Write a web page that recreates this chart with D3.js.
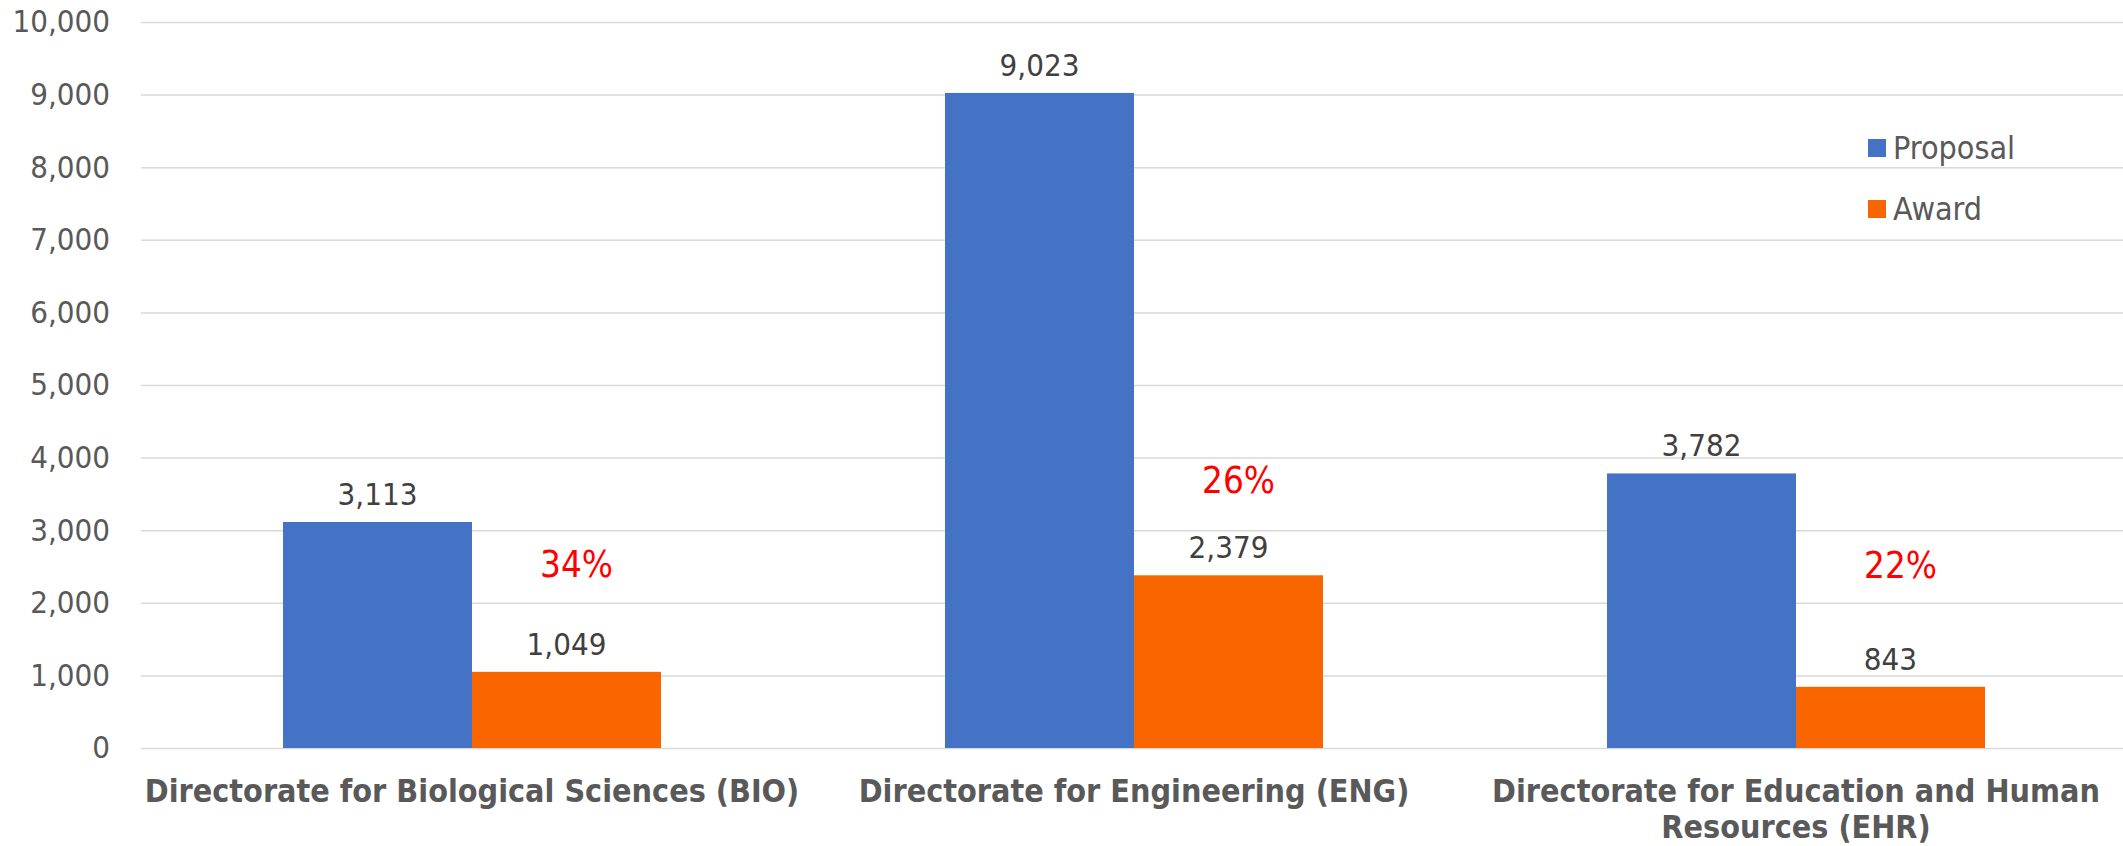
<!DOCTYPE html>
<html>
<head>
<meta charset="utf-8">
<script src="https://cdn.jsdelivr.net/npm/d3@7"></script>
<style>
    body { margin: 0; background: #fff; }
    svg text { font-family: "DejaVu Sans Condensed", "DejaVu Sans", sans-serif; font-stretch: condensed; }
</style>
</head>
<body>
<div id="chart"></div>
<script>

const categories = [
    "Directorate for Biological Sciences (BIO)",
    "Directorate for Engineering (ENG)",
    "Directorate for Education and Human Resources (EHR)"
];
const seriesNames = ["Proposal", "Award"];
const proposals = [3113, 9023, 3782];
const awards = [1049, 2379, 843];
const yTicks = [0, 1000, 2000, 3000, 4000, 5000, 6000, 7000, 8000, 9000, 10000];
// value height where the red award-rate note sits over each group
const rateNoteAt = [2350, 3510, 2340];

const colors = { Proposal: "#4472C4", Award: "#F96600" };

const width = 2123, height = 846;
const margin = { top: 22, right: -4, bottom: 98, left: 141 };

const svg = d3.select("#chart")
    .append("svg")
        .attr("width", width)
        .attr("height", height);

const x0 = d3.scaleBand()
    .domain(categories)
    .range([margin.left, width - margin.right])
    .paddingInner(0.429)
    .paddingOuter(0.2145);

const x1 = d3.scaleBand()
    .domain(seriesNames)
    .range([0, x0.bandwidth()]);

const y = d3.scaleLinear()
    .domain([0, 10000])
    .range([height - margin.bottom, margin.top]);

const rows = categories.map((c, i) => ({
    category: c,
    values: [
        { key: "Proposal", value: proposals[i] },
        { key: "Award", value: awards[i] }
    ],
    rate: awards[i] / proposals[i],
    noteAt: rateNoteAt[i]
}));

// gridlines
svg.append("g")
    .attr("transform", `translate(${margin.left},0)`)
    .call(d3.axisLeft(y)
        .tickValues(yTicks)
        .tickSize(-(width - margin.right - margin.left))
        .tickFormat(""))
    .call(g => g.select(".domain").remove())
    .call(g => g.selectAll("line")
        .attr("stroke", "#d9d9d9")
        .attr("stroke-width", 1.5));

// y labels
svg.append("g")
    .attr("transform", `translate(${margin.left},0)`)
    .call(d3.axisLeft(y)
        .tickValues(yTicks)
        .tickSize(0)
        .tickPadding(31)
        .tickFormat(d3.format(",")))
    .call(g => g.select(".domain").remove())
    .call(g => g.selectAll("text")
        .attr("font-size", 31)
        .attr("fill", "#595959"));

const groups = svg.selectAll("g.group")
    .data(rows)
    .enter()
    .append("g")
        .classed("group", true)
        .attr("transform", d => `translate(${x0(d.category)},0)`);

groups.selectAll("rect")
    .data(d => d.values)
    .enter()
    .append("rect")
        .attr("x", d => x1(d.key))
        .attr("y", d => y(d.value))
        .attr("width", x1.bandwidth())
        .attr("height", d => y(0) - y(d.value))
        .attr("fill", d => colors[d.key]);

groups.selectAll("text.value")
    .data(d => d.values)
    .enter()
    .append("text")
        .classed("value", true)
        .attr("x", d => x1(d.key) + x1.bandwidth() / 2)
        .attr("y", d => y(d.value) - 17)
        .attr("text-anchor", "middle")
        .attr("font-size", 31)
        .attr("fill", "#404040")
        .text(d => d3.format(",")(d.value));

groups.append("text")
        .classed("rate", true)
        .attr("x", x1("Award") + x1.bandwidth() / 2 + 10)
        .attr("y", d => y(d.noteAt))
        .attr("text-anchor", "middle")
        .attr("font-size", 36.5)
        .attr("fill", "#FF0000")
        .text(d => d3.format(".0%")(d.rate));

// category labels, wrapped to the band step
const lineHeight = 36;
const wrap = (texts, maxWidth) => {
    texts.each(function () {
        const text = d3.select(this);
        const words = text.text().split(/\s+/);
        const yPos = text.attr("y");
        const firstDy = 0.71 * 32;
        text.text(null);
        let line = [];
        let lineNo = 0;
        let tspan = text.append("tspan")
            .attr("x", 0)
            .attr("y", yPos)
            .attr("dy", `${firstDy}px`);
        words.forEach(word => {
            line.push(word);
            tspan.text(line.join(" "));
            if (tspan.node().getComputedTextLength() > maxWidth && line.length > 1) {
                line.pop();
                tspan.text(line.join(" "));
                line = [word];
                lineNo += 1;
                tspan = text.append("tspan")
                    .attr("x", 0)
                    .attr("y", yPos)
                    .attr("dy", `${firstDy + lineNo * lineHeight}px`)
                    .text(word);
            }
        });
    });
};

svg.append("g")
    .attr("transform", `translate(0,${y(0)})`)
    .call(d3.axisBottom(x0)
        .tickSize(0)
        .tickPadding(31))
    .call(g => g.select(".domain").remove())
    .call(g => g.selectAll("text")
        .attr("dy", null)
        .attr("font-size", 32)
        .attr("font-weight", "bold")
        .attr("fill", "#595959")
        .call(wrap, x0.step() - 4));

// legend
const legend = svg.append("g")
    .selectAll("g")
    .data(seriesNames)
    .enter()
    .append("g")
        .attr("transform", (d, i) => `translate(1868,${139 + i * 61})`);

legend.append("rect")
    .attr("width", 18)
    .attr("height", 18)
    .attr("fill", d => colors[d]);

legend.append("text")
    .attr("x", 25)
    .attr("y", 20)
    .attr("font-size", 32)
    .attr("fill", "#595959")
    .text(d => d);

</script>
</body>
</html>
